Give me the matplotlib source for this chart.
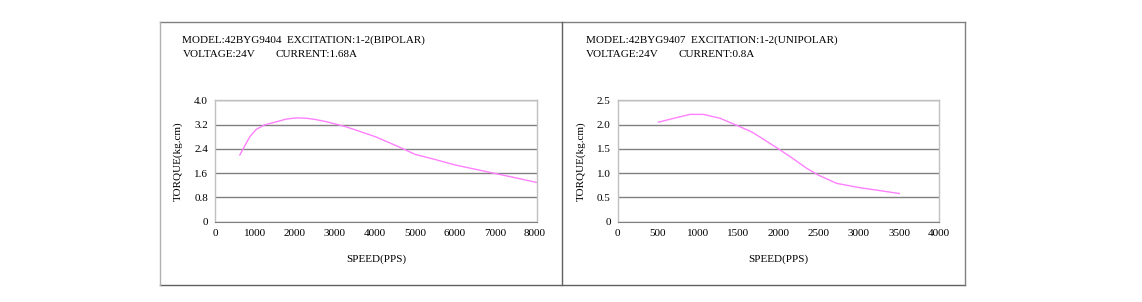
import matplotlib
matplotlib.use("Agg")
import matplotlib.pyplot as plt
from matplotlib.lines import Line2D

# left motor: 42BYG9404 bipolar
speed_a = [620, 870, 1030, 1240, 1500, 1780, 2030, 2280, 2500, 2770, 3270, 4010, 4590, 5000, 5500, 6000, 6500, 7000, 7500, 8050]
torque_a = [2.20, 2.80, 3.04, 3.19, 3.28, 3.38, 3.42, 3.41, 3.37, 3.30, 3.13, 2.80, 2.47, 2.22, 2.05, 1.87, 1.73, 1.59, 1.45, 1.29]
yticks_a = [0, 0.8, 1.6, 2.4, 3.2, 4.0]
ylabels_a = ["0", "0.8", "1.6", "2.4", "3.2", "4.0"]
xticks_a = [0, 1000, 2000, 3000, 4000, 5000, 6000, 7000, 8000]

# right motor: 42BYG9407 unipolar
speed_b = [506, 700, 900, 1065, 1273, 1500, 1666, 1830, 2000, 2180, 2350, 2495, 2723, 3013, 3262, 3503]
torque_b = [2.05, 2.13, 2.21, 2.21, 2.13, 1.97, 1.85, 1.68, 1.50, 1.30, 1.10, 0.96, 0.79, 0.70, 0.64, 0.58]
yticks_b = [0, 0.5, 1.0, 1.5, 2.0, 2.5]
ylabels_b = ["0", "0.5", "1.0", "1.5", "2.0", "2.5"]
xticks_b = [0, 500, 1000, 1500, 2000, 2500, 3000, 3500, 4000]

W, H = 1142, 302
fnt = "Liberation Serif"
fs = 8

fig = plt.figure(figsize=(W / 100, H / 100), dpi=100)
fig.patch.set_facecolor("white")

def px(x, y):
    return x / W, 1 - y / H

# outer frame and divider
def fline(x0, y0, x1, y1, c="#808080", lw=1.0):
    a, b = px(x0, y0)
    c2, d = px(x1, y1)
    fig.add_artist(Line2D([a, c2], [b, d], color=c, lw=lw, transform=fig.transFigure))

fline(160, 22, 965, 22)
fline(160, 285, 965, 285, c="#606060")
fline(160, 22, 160, 285, c="#b0b0b0")
fline(965, 22, 965, 285)
fline(562, 22, 562, 285, c="#606060")

def panel(left, right, xs, ys, xt, xmax, yt, yl, line1, line2a, line2b, tx, cx):
    l, b = px(left, 221.7)
    ax = fig.add_axes([l, b, (right - left) / W, 121.4 / H])
    ax.plot(xs, ys, color="#ff80ff", lw=1.0)
    ax.set_xlim(0, xmax)
    ax.set_ylim(0, yt[-1])
    ax.set_yticks(yt)
    ax.set_yticklabels(yl, fontfamily=fnt, fontsize=fs)
    ax.set_xticks(xt)
    ax.set_xticklabels([str(v) for v in xt], fontfamily=fnt, fontsize=fs)
    ax.tick_params(length=0, pad=5)
    ax.grid(axis="y", color="#808080", lw=1.0)
    for s in ["top", "right", "left"]:
        ax.spines[s].set_color("#c0c0c0")
        ax.spines[s].set_linewidth(1.0)
    ax.spines["bottom"].set_color("#808080")
    ax.set_ylabel("TORQUE(kg.cm)", fontfamily=fnt, fontsize=fs, labelpad=8)
    ax.set_xlabel("SPEED(PPS)", fontfamily=fnt, fontsize=fs, labelpad=12)
    x1, y1 = px(tx, 40)
    fig.text(x1, y1, line1, fontfamily=fnt, fontsize=fs, va="center", ha="left")
    x2, y2 = px(tx, 54.5)
    fig.text(x2, y2, line2a, fontfamily=fnt, fontsize=fs, va="center", ha="left")
    x3, y3 = px(cx, 54.5)
    fig.text(x3, y3, line2b, fontfamily=fnt, fontsize=fs, va="center", ha="left")
    return ax

panel(215, 537, speed_a, torque_a, xticks_a, 8050, yticks_a, ylabels_a,
      "MODEL:42BYG9404  EXCITATION:1-2(BIPOLAR)", "VOLTAGE:24V", "CURRENT:1.68A", 182.5, 275.5)
panel(617.7, 939.3, speed_b, torque_b, xticks_b, 4000, yticks_b, ylabels_b,
      "MODEL:42BYG9407  EXCITATION:1-2(UNIPOLAR)", "VOLTAGE:24V", "CURRENT:0.8A", 585.5, 678)

fig.savefig("out.png", dpi=100)
